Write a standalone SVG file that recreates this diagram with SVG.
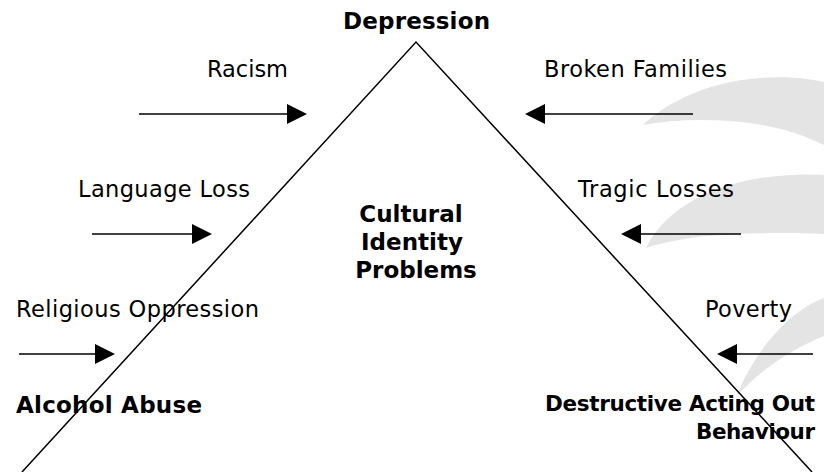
<svg xmlns="http://www.w3.org/2000/svg" width="824" height="472" viewBox="0 0 824 472">
<style>
.lbl{font-family:"DejaVu Sans","Liberation Sans",sans-serif;font-size:22.5px;fill:#000}
.bold{font-family:"DejaVu Sans","Liberation Sans",sans-serif;font-size:23px;font-weight:bold;fill:#000}
.bsm{font-size:21.5px}
.ln{stroke:#000;stroke-width:1.5;fill:none}
.sw{fill:#e4e4e4}
</style>
<defs>
<marker id="ah" markerUnits="userSpaceOnUse" markerWidth="20" markerHeight="20" refX="0" refY="10" orient="auto">
<path d="M0,0 L20,10 L0,20 Z" fill="#000"/>
</marker>
</defs>
<rect width="824" height="472" fill="#fff"/>
<g id="background">
<path class="sw" d="M643,125 C 665,104 705,82 760,78 C 790,76 810,79 824,82 L824,145 C 800,133 770,124 730,121 C 700,119 670,120 643,125 Z"/>
<path class="sw" d="M646,248 C 662,215 700,188 760,178 C 790,174 810,174 824,175 L824,234 C 780,232 720,233 690,238 C 670,241 655,245 646,248 Z"/>
<path class="sw" d="M736,397 C 755,350 790,310 824,298 L824,336 C 790,350 760,370 736,397 Z"/>
</g>
<g id="triangle">
<polyline class="ln" points="22,472 416,42 812,472"/>
</g>
<g id="connectors">
<line class="ln" x1="139" y1="114" x2="287" y2="114" marker-end="url(#ah)"/>
<line class="ln" x1="92" y1="234" x2="192" y2="234" marker-end="url(#ah)"/>
<line class="ln" x1="19" y1="354" x2="95" y2="354" marker-end="url(#ah)"/>
<line class="ln" x1="693" y1="114" x2="545" y2="114" marker-end="url(#ah)"/>
<line class="ln" x1="741" y1="234" x2="641" y2="234" marker-end="url(#ah)"/>
<line class="ln" x1="813" y1="354" x2="737" y2="354" marker-end="url(#ah)"/>
</g>
<g id="depression"><text class="bold" x="343" y="29" textLength="147">Depression</text></g>
<g id="center"><text class="bold" text-anchor="middle">
<tspan x="415" y="221.5">Cultural</tspan>
<tspan x="416" y="249.5">Identity</tspan>
<tspan x="416" y="277.5">Problems</tspan></text></g>
<g id="alcohol"><text class="bold" x="16" y="413" textLength="186">Alcohol Abuse</text></g>
<g id="destructive"><text class="bold bsm" x="545" y="411" textLength="270">Destructive Acting Out</text><text class="bold bsm" x="696" y="439" textLength="119">Behaviour</text></g>
<g id="racism"><text class="lbl" x="207" y="77" textLength="81">Racism</text></g>
<g id="language"><text class="lbl" x="78" y="197" textLength="172">Language Loss</text></g>
<g id="religious"><text class="lbl" x="16" y="317" textLength="243">Religious Oppression</text></g>
<g id="broken"><text class="lbl" x="544" y="77" textLength="183">Broken Families</text></g>
<g id="tragic"><text class="lbl" x="578" y="197" textLength="156">Tragic Losses</text></g>
<g id="poverty"><text class="lbl" x="705" y="317" textLength="87">Poverty</text></g>
</svg>
